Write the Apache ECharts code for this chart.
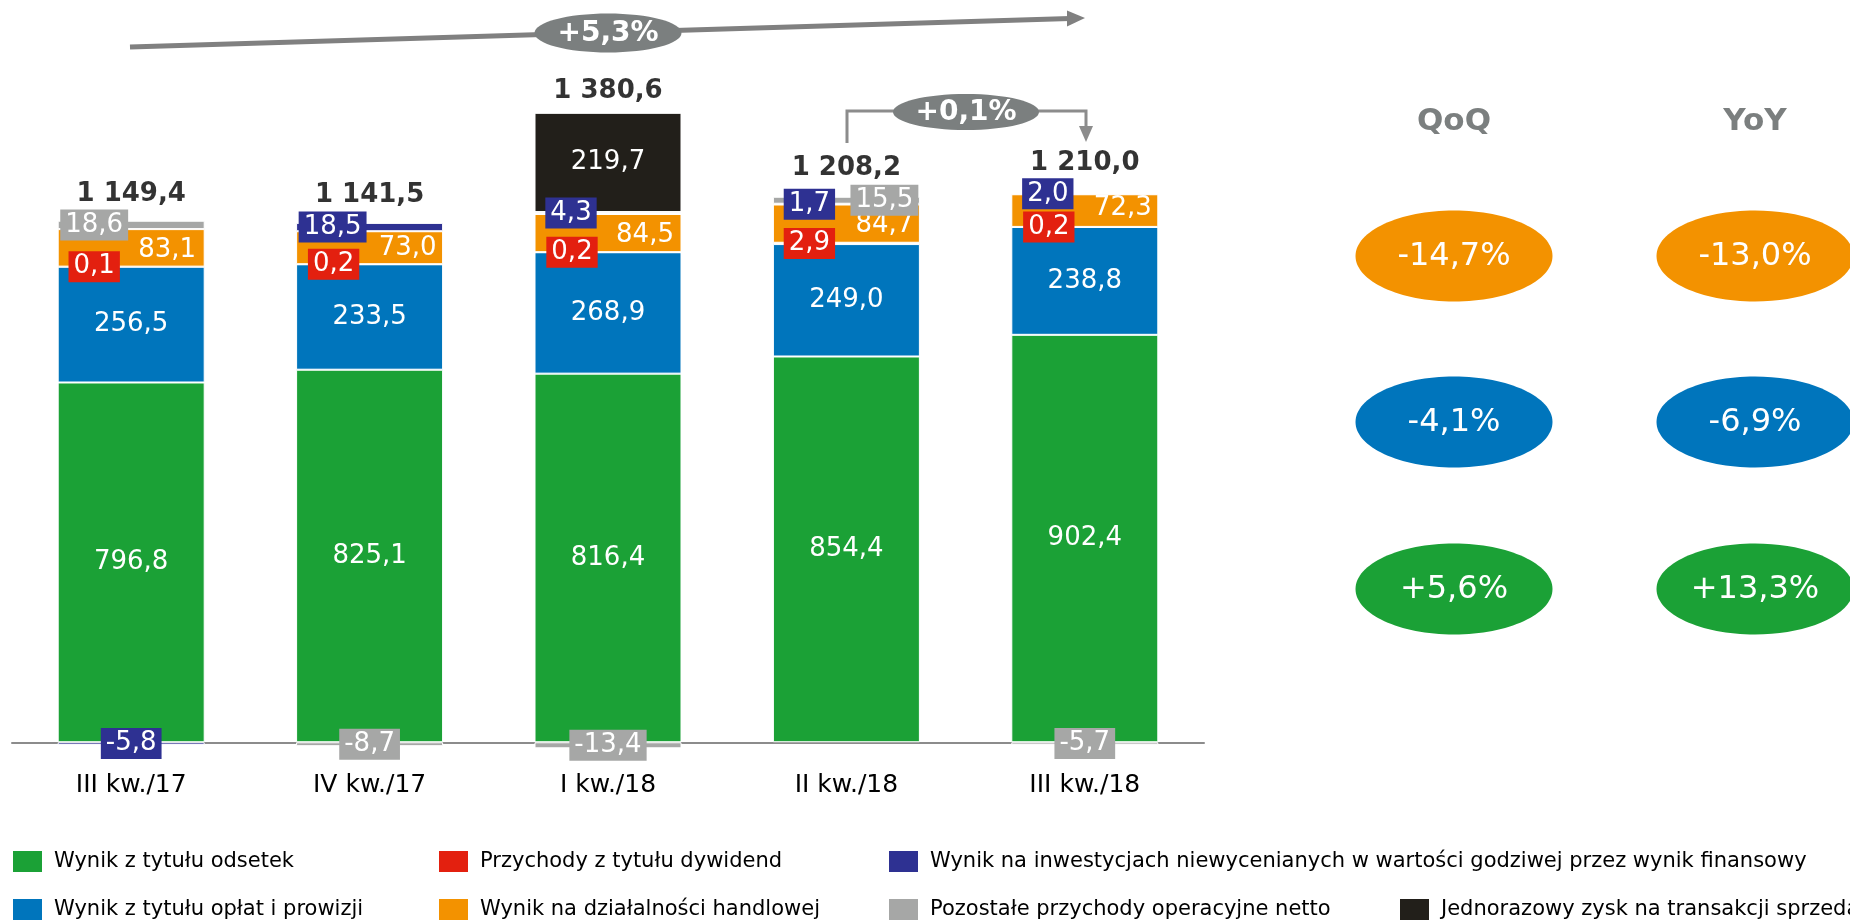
<!DOCTYPE html>
<html><head><meta charset="utf-8">
<script src="https://cdn.jsdelivr.net/npm/echarts@6/dist/echarts.min.js"></script>
<style>html,body{margin:0;padding:0;background:#fff}#c{width:1850px;height:922px}</style>
</head><body><div id="c"></div>
<script>
// ---------- DATA ----------
const categories = ['III kw./17', 'IV kw./17', 'I kw./18', 'II kw./18', 'III kw./18'];
const odsetki     = [796.8, 825.1, 816.4, 854.4, 902.4];
const prowizje    = [256.5, 233.5, 268.9, 249.0, 238.8];
const dywidendy   = [0.1, 0.2, 0.2, 2.9, 0.2];
const handlowa    = [83.1, 73.0, 84.5, 84.7, 72.3];
const inwestycje  = [-5.8, 18.5, 4.3, 1.7, 2.0];
const pozostale   = [18.6, -8.7, -13.4, 15.5, -5.7];
const jednorazowy = [null, null, 219.7, null, null];
const totals      = [1149.4, 1141.5, 1380.6, 1208.2, 1210.0];
const qoqChanges  = ['-14,7%', '-4,1%', '+5,6%'];
const yoyChanges  = ['-13,0%', '-6,9%', '+13,3%'];
const yearChange    = '+5,3%';
const quarterChange = '+0,1%';
const seriesNames = [
  'Wynik z tytułu odsetek',
  'Wynik z tytułu opłat i prowizji',
  'Przychody z tytułu dywidend',
  'Wynik na działalności handlowej',
  'Wynik na inwestycjach niewycenianych w wartości godziwej przez wynik finansowy',
  'Pozostałe przychody operacyjne netto',
  'Jednorazowy zysk na transakcji sprzedaży'
];

// ---------- STYLE / LAYOUT ----------
const colors = ['#1ba136', '#0075bc', '#e3200f', '#f39200', '#2e3192', '#a6a7a6', '#221f1a'];
const FONT = 'DejaVu Sans';
const labelOffsets = [
  null,
  null,
  [[-37,0],[-36,0],[-36,0],[-37,0],[-36,0]],
  [[36,2],[38,1],[37,2],[38,2],[38,-2]],
  [[0,0],[-37,0],[-37,0],[-37,0],[-37,0]],
  [[-37,0],[0,0],[0,0],[38,0],[0,0]],
  null
];
const boxed = [false, false, true, false, true, true, false];
const totalOffsets = [[0,0],[0,-1],[0,5],[0,-2],[0,-4]];

const fmt = v => v.toFixed(1).replace('.', ',');
const fmtTotal = v => {
  const s = v.toFixed(1).split('.');
  return s[0].replace(/\B(?=(\d{3})+(?!\d))/g, ' ') + ',' + s[1];
};

const dataSets = [odsetki, prowizje, dywidendy, handlowa, inwestycje, pozostale, jednorazowy];
const series = dataSets.map((arr, si) => ({
  name: seriesNames[si],
  type: 'bar',
  stack: 'total',
  barWidth: 147,
  itemStyle: { color: colors[si], borderColor: '#fff', borderWidth: 1 },
  label: {
    show: true,
    position: 'inside',
    color: '#fff',
    fontFamily: FONT,
    fontSize: 26,
    lineHeight: 29,
    formatter: p => (p.value == null ? '' : fmt(p.value)),
    backgroundColor: boxed[si] ? colors[si] : 'transparent',
    padding: boxed[si] ? [1, 5, 1, 5] : 0
  },
  data: arr.map((v, i) => {
    const item = { value: v };
    if (labelOffsets[si] && labelOffsets[si][i]) item.label = { offset: labelOffsets[si][i] };
    return item;
  })
}));

// positive stack tops (for placing the total labels)
const stackTops = categories.map((_, i) =>
  dataSets.reduce((s, arr) => s + ((arr[i] || 0) > 0 ? arr[i] : 0), 0));

series.push({
  name: 'Suma',
  type: 'scatter',
  symbolSize: 1,
  itemStyle: { color: 'rgba(0,0,0,0)' },
  silent: true,
  z: 5,
  label: {
    show: true,
    position: 'top',
    distance: 11,
    color: '#000',
    fontFamily: FONT,
    fontWeight: 'bold',
    fontSize: 26,
    lineHeight: 30,
    formatter: p => fmtTotal(totals[p.dataIndex])
  },
  data: stackTops.map((v, i) => ({ value: v, label: { offset: totalOffsets[i] } }))
});

const legendBase = {
  orient: 'vertical', padding: 0, itemWidth: 31, itemHeight: 23, itemGap: 23,
  icon: 'rect', selectedMode: false,
  textStyle: { fontFamily: FONT, fontSize: 21, color: '#000', padding: [0, 0, 0, 6] }
};

// graphic annotations
const gray = '#7b7f7f';
const graphics = [
  { type: 'line', shape: { x1: 130, y1: 47, x2: 1070, y2: 18.5 }, style: { stroke: '#808080', lineWidth: 5 } },
  { type: 'polygon', shape: { points: [[1085, 18], [1067, 10.5], [1067, 26.5]] }, style: { fill: '#808080' } },
  { type: 'ellipse', shape: { cx: 608, cy: 33, rx: 73.5, ry: 19.5 }, style: { fill: gray } },
  { type: 'text', style: { x: 608, y: 34, text: yearChange, fill: '#fff', fontFamily: FONT, fontWeight: 'bold', fontSize: 28, align: 'center', verticalAlign: 'middle' } },
  { type: 'polyline', shape: { points: [[847, 143], [847, 111], [1086, 111], [1086, 128]] }, style: { stroke: '#8c8c8c', lineWidth: 3, fill: null } },
  { type: 'polygon', shape: { points: [[1079, 126], [1093, 126], [1086, 142]] }, style: { fill: '#8c8c8c' } },
  { type: 'ellipse', shape: { cx: 966, cy: 112, rx: 73, ry: 18 }, style: { fill: gray } },
  { type: 'text', style: { x: 966, y: 113, text: quarterChange, fill: '#fff', fontFamily: FONT, fontWeight: 'bold', fontSize: 28, align: 'center', verticalAlign: 'middle' } },
  { type: 'text', style: { x: 1454, y: 122, text: 'QoQ', fill: gray, fontFamily: FONT, fontWeight: 'bold', fontSize: 31, align: 'center', verticalAlign: 'middle' } },
  { type: 'text', style: { x: 1755, y: 122, text: 'YoY', fill: gray, fontFamily: FONT, fontWeight: 'bold', fontSize: 31, align: 'center', verticalAlign: 'middle' } }
];
const rowY = [256, 422, 589];
const rowColors = [colors[3], colors[1], colors[0]];
[[1454, qoqChanges], [1755, yoyChanges]].forEach(([cx, arr]) => {
  arr.forEach((t, r) => {
    graphics.push({ type: 'ellipse', shape: { cx: cx, cy: rowY[r], rx: 98.5, ry: 45.5 }, style: { fill: rowColors[r] } });
    graphics.push({ type: 'text', style: { x: cx, y: rowY[r] + 1, text: t, fill: '#fff', fontFamily: FONT, fontSize: 32, align: 'center', verticalAlign: 'middle' } });
  });
});

const chart = echarts.init(document.getElementById('c'));
chart.setOption({
  animation: false,
  backgroundColor: '#fff',
  textStyle: { fontFamily: FONT },
  grid: { left: 12, right: 646, top: 65, bottom: 134.6 },
  xAxis: {
    type: 'category',
    data: categories,
    axisLine: { onZero: true, lineStyle: { color: '#8c8c8c', width: 2 } },
    axisTick: { show: false },
    axisLabel: { color: '#000', fontFamily: FONT, fontSize: 25, margin: -14 }
  },
  yAxis: { type: 'value', min: -100, max: 1500, show: false, splitLine: { show: false } },
  legend: [
    Object.assign({}, legendBase, { left: 11, top: 849, data: [seriesNames[0], seriesNames[1]] }),
    Object.assign({}, legendBase, { left: 437, top: 849, data: [seriesNames[2], seriesNames[3]] }),
    Object.assign({}, legendBase, { left: 887, top: 849, data: [seriesNames[4], seriesNames[5]] }),
    Object.assign({}, legendBase, { left: 1398, top: 897, data: [seriesNames[6]] })
  ],
  series: series,
  graphic: graphics
});
</script></body></html>
